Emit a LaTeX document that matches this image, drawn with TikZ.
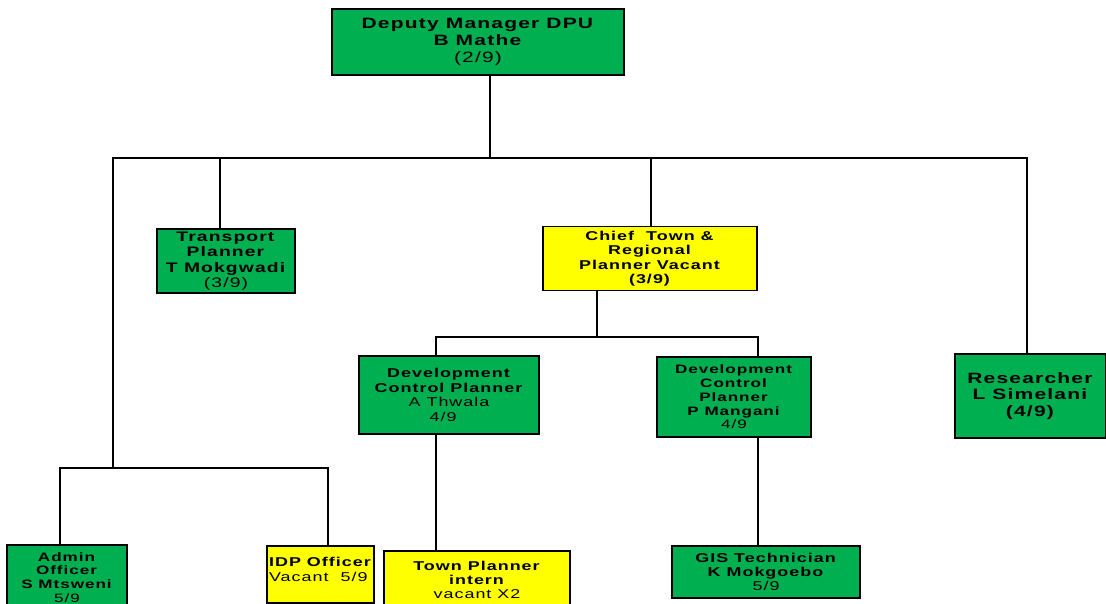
\documentclass[tikz,border=0pt]{standalone}
\usepackage{fontspec}
\setmainfont{Liberation Sans}[FakeStretch=1.4,LetterSpace=8]
\definecolor{dpugreen}{HTML}{00B050}
\definecolor{dpuyellow}{HTML}{FFFF00}
\tikzset{
  conn/.style={draw=black, line width=2pt},
  orgbox/.style={draw=black, line width=1.5pt, inner sep=0pt, align=center, text=black},
  gbox/.style={orgbox, fill=dpugreen},
  ybox/.style={orgbox, fill=dpuyellow},
  fa/.style={font=\fontsize{15}{16.8}\selectfont},
  fb/.style={font=\fontsize{13.8}{15.4}\selectfont},
  fc/.style={font=\fontsize{12.8}{14.4}\selectfont},
  fd/.style={font=\fontsize{12.2}{13.8}\selectfont},
}
\begin{document}
\begin{tikzpicture}[x=1pt,y=-1pt]
\useasboundingbox (0,0) rectangle (1106,604);
\clip (0,0) rectangle (1106,604);
% boxes
\node[gbox, fa, minimum width=292pt, minimum height=66pt] (top) at (478,42)
  {\textbf{Deputy Manager DPU}\\\textbf{B Mathe}\\(2/9)};
\node[gbox, fb, minimum width=138pt, minimum height=64pt] (trans) at (226,261)
  {\textbf{Transport}\\\textbf{Planner}\\\textbf{T Mokgwadi}\\(3/9)};
\node[ybox, fc, minimum width=214pt, minimum height=64pt] (chief) at (650,258.5)
  {\textbf{Chief\ \ Town \&}\\\textbf{Regional}\\\textbf{Planner Vacant}\\\textbf{(3/9)}};
\node[gbox, fc, minimum width=180pt, minimum height=78pt] (dcpA) at (449,395)
  {\textbf{Development}\\\textbf{Control Planner}\\A Thwala\hspace*{18pt}\\4/9\hspace*{12pt}};
\node[gbox, fd, minimum width=154pt, minimum height=80pt] (dcpP) at (734,397)
  {\textbf{Development}\\\textbf{Control}\\\textbf{Planner}\\\textbf{P Mangani}\\4/9};
\node[gbox, fa, minimum width=151pt, minimum height=84pt] (res) at (1030.5,396)
  {\textbf{Researcher}\\\textbf{L Simelani}\\\textbf{(4/9)}};
\node[gbox, fd, minimum width=120pt, minimum height=65pt] (admin) at (67,577.5)
  {\textbf{Admin}\\\textbf{Officer}\\\textbf{S Mtsweni}\\5/9};
\node[ybox, fc, align=left, minimum width=107pt, minimum height=57pt] (idp) at (320.5,574.5)
  {\textbf{IDP Officer}\\Vacant\ \ 5/9\\[-4pt]\mbox{}};
\node[ybox, fc, minimum width=186pt, minimum height=58pt] (town) at (477,580)
  {\textbf{Town Planner}\\\textbf{intern}\\vacant X2};
\node[gbox, fc, minimum width=188pt, minimum height=52pt] (gis) at (766,572)
  {\textbf{GIS Technician}\\\textbf{K Mokgoebo}\\5/9};
% junction points
\coordinate (jTop) at (490,158);
\coordinate (busL) at (113,158);
\coordinate (busR) at (1027,158);
\coordinate (jT) at (220,158);
\coordinate (jC) at (651,158);
\coordinate (busL2) at (113,468);
\coordinate (aL) at (60,468);
\coordinate (aR) at (328,468);
\coordinate (cJ) at (597,337);
\coordinate (cL) at (436,337);
\coordinate (cR) at (758,337);
% connectors
\draw[conn] (top.south -| jTop) -- (jTop);
\draw[conn] (busL2) -- (busL) -- (busR) -- (busR |- res.north);
\draw[conn] (jT) -- (jT |- trans.north);
\draw[conn] (jC) -- (jC |- chief.north);
\draw[conn] (aL |- admin.north) -- (aL) -- (aR) -- (aR |- idp.north);
\draw[conn] (chief.south -| cJ) -- (cJ);
\draw[conn] (cL |- dcpA.north) -- (cL) -- (cR) -- (cR |- dcpP.north);
\draw[conn] (dcpA.south -| cL) -- (cL |- town.north);
\draw[conn] (dcpP.south -| cR) -- (cR |- gis.north);
\end{tikzpicture}
\end{document}
